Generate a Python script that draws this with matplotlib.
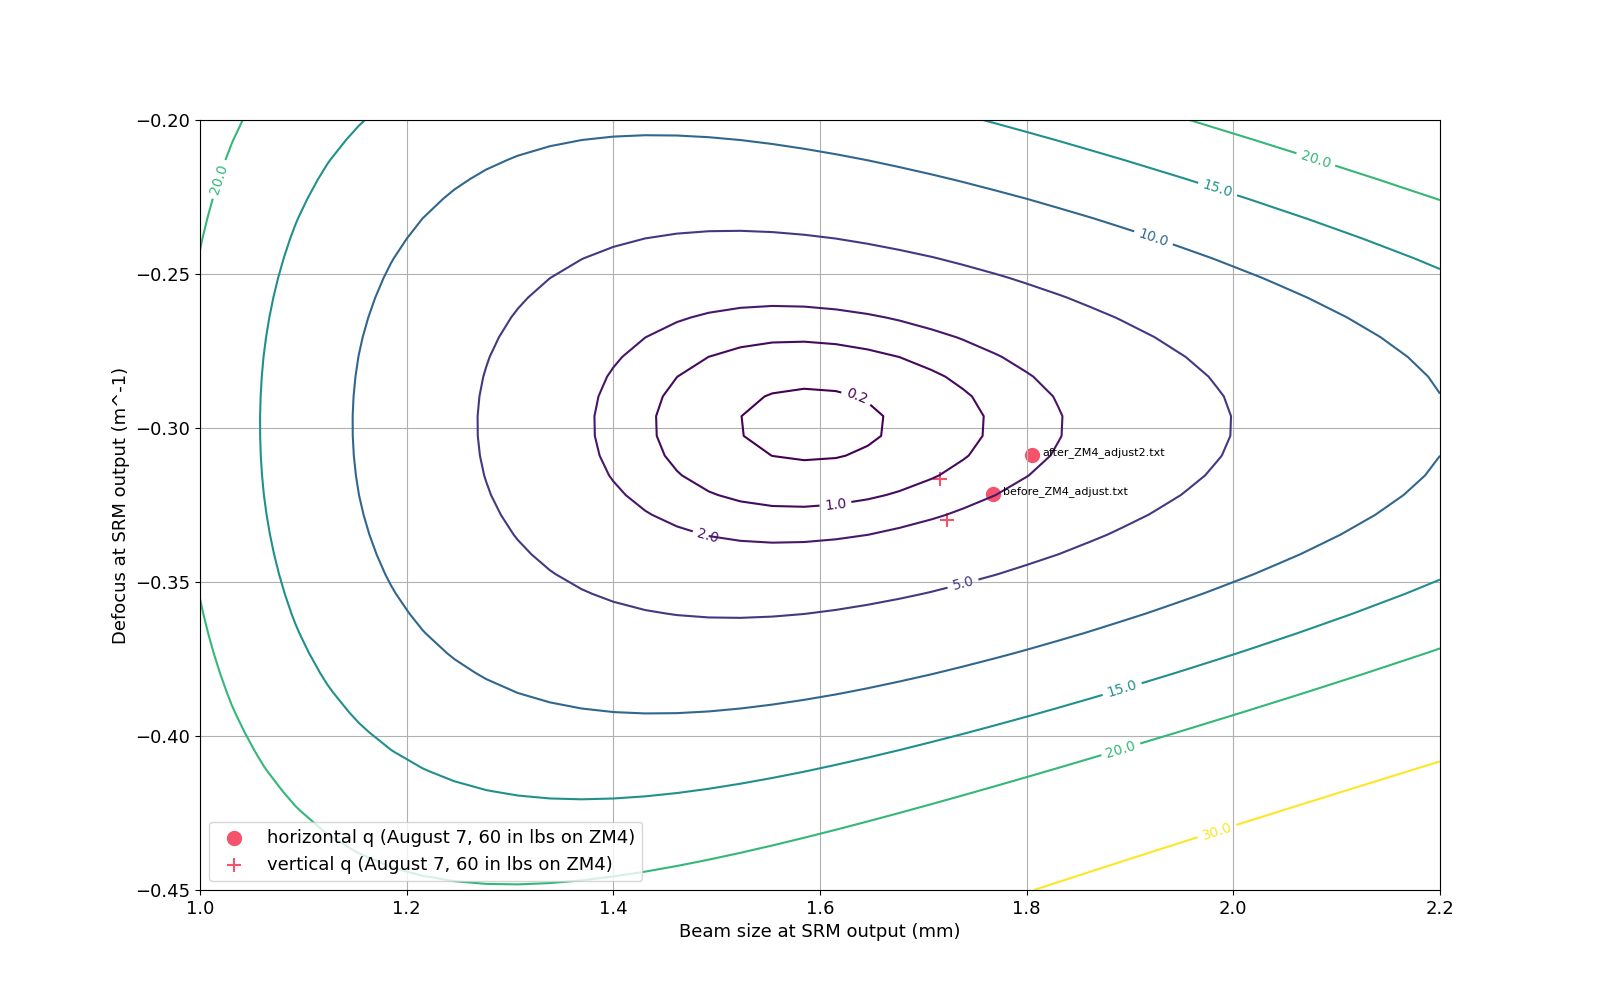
import numpy as np
import matplotlib
matplotlib.use("Agg")
import matplotlib.pyplot as plt

# target beam at SRM output (mode-matching reference)
WAVELENGTH = 1064e-9   # m
W_TARGET = 1.592       # mm
S_TARGET = -0.2988     # 1/m

# mismatch contour levels (%)
levels = [0.2, 1.0, 2.0, 5.0, 10.0, 15.0, 20.0, 30.0]

# measured q's (beam size mm, defocus 1/m)
h_files = ["before_ZM4_adjust.txt", "after_ZM4_adjust2.txt"]
h_size = [1.767, 1.805]
h_defocus = [-0.3214, -0.3088]
v_size = [1.716, 1.723]
v_defocus = [-0.3164, -0.3300]

legend_h = "horizontal q (August 7, 60 in lbs on ZM4)"
legend_v = "vertical q (August 7, 60 in lbs on ZM4)"

plt.rcParams["font.size"] = 13


def mismatch(w, s):
    """Mode mismatch (%) between a Gaussian beam (w [mm], S [1/m]) and the target."""
    r = w / W_TARGET
    x = np.pi * (w * 1e-3) * (W_TARGET * 1e-3) * (s - S_TARGET) / WAVELENGTH
    return 100.0 * (1.0 - 4.0 / ((r + 1.0 / r) ** 2 + x ** 2))


w = np.linspace(1.0, 2.2, 40)
s = np.linspace(-0.45, -0.2, 40)
W, S = np.meshgrid(w, s)
M = mismatch(W, S)

fig, ax = plt.subplots(figsize=(16, 10), dpi=100)
cs = ax.contour(W, S, M, levels=levels, cmap="viridis", linewidths=1.5)
label_pos = [(1.636, -0.2895), (1.615, -0.3247), (1.492, -0.3346), (1.738, -0.350),
             (1.9235, -0.2375), (1.985, -0.2222), (2.08, -0.2126), (1.018, -0.2192),
             (1.892, -0.3843), (1.891, -0.4042), (1.984, -0.4308)]
ax.clabel(cs, fmt="%.1f", fontsize=10, manual=label_pos)

ax.scatter(h_size, h_defocus, s=100, color="#f4536c", marker="o", label=legend_h)
ax.scatter(v_size, v_defocus, s=100, color="#f4536c", marker="+", label=legend_v)
for name, x, y in zip(h_files, h_size, h_defocus):
    ax.text(x + 0.01, y, name, fontsize=8)

ax.set_xlim(1.0, 2.2)
ax.set_ylim(-0.45, -0.2)
ax.set_xlabel("Beam size at SRM output (mm)")
ax.set_ylabel("Defocus at SRM output (m^-1)")
ax.grid(True)
ax.legend(loc="lower left")

fig.savefig("out.png", dpi=100)
